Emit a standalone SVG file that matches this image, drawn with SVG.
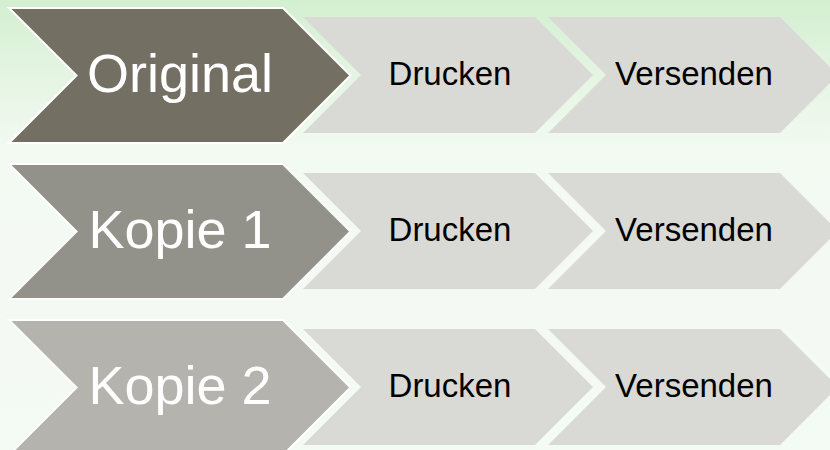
<svg xmlns="http://www.w3.org/2000/svg" width="830" height="450" viewBox="0 0 830 450">
  <defs>
    <linearGradient id="bg" x1="0" y1="0" x2="0" y2="1">
      <stop offset="0" stop-color="#d3efd0"/>
      <stop offset="0.18" stop-color="#e6f5e4"/>
      <stop offset="0.34" stop-color="#f3faf2"/>
      <stop offset="1" stop-color="#f4faf4"/>
    </linearGradient>
    <polygon id="big" points="0,0 274,0 341.5,67.5 274,135 0,135 67.5,67.5"/>
    <polygon id="small" points="0,0 232,0 290,58 232,116 0,116 58,58"/>
  </defs>
  <style>
    .big { stroke: #ffffff; stroke-width: 2; stroke-linejoin: miter; }
    .b1 { fill: #737063; }
    .b2 { fill: #93928a; }
    .b3 { fill: #b4b3ae; }
    .sm { fill: #d9d9d6; }
    .bt { font-family: "Liberation Sans", Arial, sans-serif; font-size: 54px; fill: #ffffff; text-anchor: middle; }
    .st { font-family: "Liberation Sans", Arial, sans-serif; font-size: 33px; fill: #000000; text-anchor: middle; }
  </style>
  <rect x="0" y="0" width="830" height="450" fill="url(#bg)"/>

  <!-- Row 1 -->
  <g id="drucken-1">
    <use href="#small" class="sm" x="303" y="17"/>
    <text class="st" x="450" y="85">Drucken</text>
  </g>
  <g id="versenden-1">
    <use href="#small" class="sm" x="548" y="17"/>
    <text class="st" x="694" y="85">Versenden</text>
  </g>
  <g id="original">
    <use href="#big" class="big b1" x="9" y="8"/>
    <text class="bt" x="180" y="92">Original</text>
  </g>

  <!-- Row 2 -->
  <g id="drucken-2">
    <use href="#small" class="sm" x="303" y="173"/>
    <text class="st" x="450" y="241">Drucken</text>
  </g>
  <g id="versenden-2">
    <use href="#small" class="sm" x="548" y="173"/>
    <text class="st" x="694" y="241">Versenden</text>
  </g>
  <g id="kopie-1">
    <use href="#big" class="big b2" x="9" y="164"/>
    <text class="bt" x="180" y="248">Kopie 1</text>
  </g>

  <!-- Row 3 -->
  <g id="drucken-3">
    <use href="#small" class="sm" x="303" y="329"/>
    <text class="st" x="450" y="397">Drucken</text>
  </g>
  <g id="versenden-3">
    <use href="#small" class="sm" x="548" y="329"/>
    <text class="st" x="694" y="397">Versenden</text>
  </g>
  <g id="kopie-2">
    <use href="#big" class="big b3" x="9" y="320"/>
    <text class="bt" x="180" y="404">Kopie 2</text>
  </g>

  <g id="connectors"/>
</svg>
